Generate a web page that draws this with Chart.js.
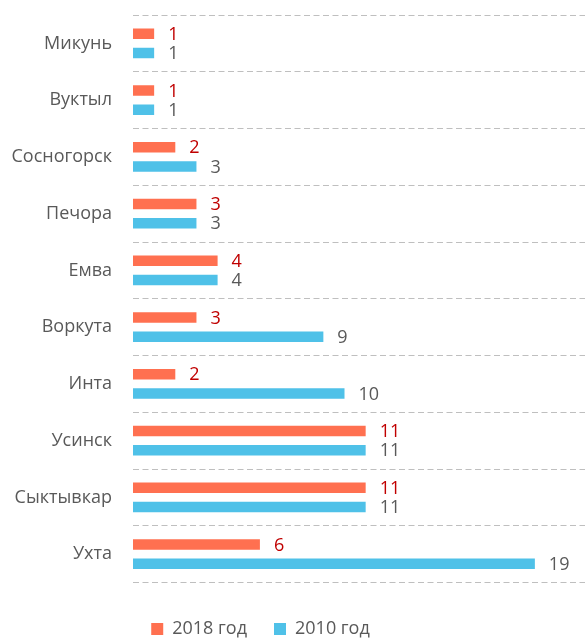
<!DOCTYPE html>
<html>
<head>
<meta charset="utf-8">
<script src="https://cdn.jsdelivr.net/npm/chart.js@4/dist/chart.umd.min.js"></script>
<style>
  html, body { margin: 0; padding: 0; background: #fff; overflow: hidden; }
  #wrap { position: relative; width: 585px; height: 639px; }
</style>
</head>
<body>
<div id="wrap"><canvas id="cityChart"></canvas></div>
<script>
// данные
const cities = ['Микунь', 'Вуктыл', 'Сосногорск', 'Печора', 'Емва', 'Воркута', 'Инта', 'Усинск', 'Сыктывкар', 'Ухта'];
const values2018 = [1, 1, 2, 3, 4, 3, 2, 11, 11, 6];
const values2010 = [1, 1, 3, 3, 4, 9, 10, 11, 11, 19];
const seriesNames = ['2018 год', '2010 год'];

const FONT = "'Open Sans', sans-serif";
const GREY = '#595959';

// подписи значений справа от столбцов
const valueLabels = {
    id: 'valueLabels',
    afterDatasetsDraw(chart) {
        const ctx = chart.ctx;
        ctx.save();
        ctx.font = `18px ${FONT}`;
        ctx.textAlign = 'left';
        ctx.textBaseline = 'middle';
        chart.data.datasets.forEach((ds, i) => {
            const meta = chart.getDatasetMeta(i);
            ctx.fillStyle = ds.labelColor;
            meta.data.forEach((bar, j) => {
                ctx.fillText(String(ds.data[j]), bar.x + 14, bar.y + 1);
            });
        });
        ctx.restore();
    }
};

// сдвиг легенды влево, как в исходнике
const legendShift = {
    id: 'legendShift',
    afterLayout(chart) {
        chart.legend.right -= 64;
    }
};

new Chart(document.getElementById('cityChart'), {
    type: 'bar',
    data: {
        labels: cities,
        datasets: [
            {
                label: seriesNames[0],
                data: values2018,
                backgroundColor: '#FF7050',
                labelColor: '#C00000',
                categoryPercentage: 0.68,
                barPercentage: 0.54
            },
            {
                label: seriesNames[1],
                data: values2010,
                backgroundColor: '#4FC1E8',
                labelColor: GREY,
                categoryPercentage: 0.68,
                barPercentage: 0.54
            }
        ]
    },
    options: {
        indexAxis: 'y',
        responsive: true,
        maintainAspectRatio: false,
        animation: false,
        layout: { padding: { top: 15, right: 0, left: 0, bottom: -9 } },
        scales: {
            x: {
                min: 0,
                max: 21.37,
                display: true,
                grid: { display: false },
                ticks: { display: false },
                border: { display: false },
                afterFit(scale) {
                    scale.height = 10.5;
                    scale.paddingLeft = 0;
                    scale.paddingRight = 0;
                }
            },
            y: {
                grid: {
                    color: '#BFBFBF',
                    lineWidth: 1,
                    drawTicks: false
                },
                border: { display: false, dash: [6, 3.5] },
                ticks: {
                    color: GREY,
                    padding: 21,
                    font: { family: FONT, size: 18 }
                },
                afterFit(scale) {
                    scale.width = 133;
                    scale.paddingTop = 0;
                    scale.paddingBottom = 0;
                }
            }
        },
        plugins: {
            tooltip: { enabled: false },
            legend: {
                position: 'bottom',
                labels: {
                    color: GREY,
                    boxWidth: 12,
                    boxHeight: 12,
                    padding: 27,
                    font: { family: FONT, size: 18 }
                }
            }
        }
    },
    plugins: [valueLabels, legendShift]
});
</script>
</body>
</html>
